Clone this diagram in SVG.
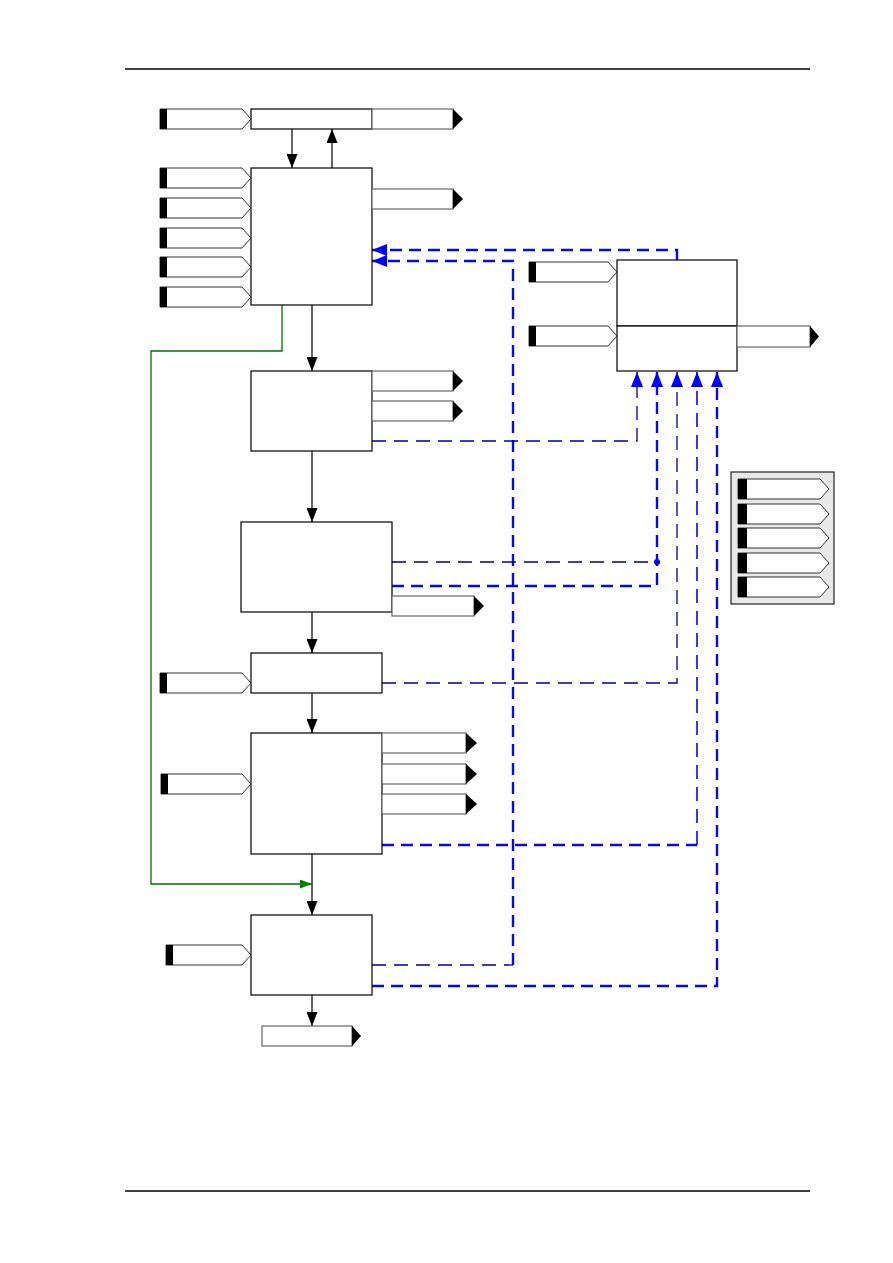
<svg xmlns="http://www.w3.org/2000/svg" width="893" height="1263" viewBox="0 0 893 1263">
<style>
.box{fill:#fff;stroke:#000;stroke-width:1.2}
.in{fill:#fff;stroke:#333;stroke-width:1}
.bar{fill:#000}
.out{fill:#fff;stroke:#666;stroke-width:1.2}
.tip{fill:#000}
.flow{fill:none;stroke:#000;stroke-width:1.2}
.green{fill:none;stroke:#007000;stroke-width:1.3}
.thick{fill:none;stroke:#0a0adc;stroke-width:2.4;stroke-dasharray:12 7}
.thin{fill:none;stroke:#000090;stroke-width:1.3;stroke-dasharray:14 8}
.rule{stroke:#000;stroke-width:1.4}
</style>
<defs>
<marker id="ak" viewBox="0 0 14 11" refX="14" refY="5.5" markerWidth="14" markerHeight="11" orient="auto" markerUnits="userSpaceOnUse"><path d="M0,0 L14,5.5 L0,11 z" fill="#000"/></marker>
<marker id="ab" viewBox="0 0 15 12" refX="15" refY="6" markerWidth="15" markerHeight="12" orient="auto" markerUnits="userSpaceOnUse"><path d="M0,0 L15,6 L0,12 z" fill="#0000ff"/></marker>
<marker id="ag" viewBox="0 0 12 9" refX="12" refY="4.5" markerWidth="12" markerHeight="9" orient="auto" markerUnits="userSpaceOnUse"><path d="M0,0 L12,4.5 L0,9 z" fill="#008000"/></marker>
</defs>

<line class="rule" x1="125" y1="69" x2="810" y2="69"/>
<line class="rule" x1="125" y1="1191" x2="810" y2="1191"/>

<g id="connectors">
<line class="flow" x1="292" y1="129" x2="292" y2="168" marker-end="url(#ak)"/>
<line class="flow" x1="332" y1="168" x2="332" y2="129" marker-end="url(#ak)"/>
<line class="flow" x1="312" y1="305" x2="312" y2="371" marker-end="url(#ak)"/>
<line class="flow" x1="312" y1="451" x2="312" y2="522" marker-end="url(#ak)"/>
<line class="flow" x1="312" y1="612" x2="312" y2="653" marker-end="url(#ak)"/>
<line class="flow" x1="312" y1="693" x2="312" y2="733" marker-end="url(#ak)"/>
<line class="flow" x1="312" y1="854" x2="312" y2="915" marker-end="url(#ak)"/>
<line class="flow" x1="312" y1="995" x2="312" y2="1026" marker-end="url(#ak)"/>
<path class="green" d="M282,305 V351 H151 V884 H312" marker-end="url(#ag)"/>
<path class="thick" d="M677,260 V250 H372" marker-end="url(#ab)"/>
<line class="thin" x1="372" y1="965" x2="513" y2="965"/>
<path class="thick" d="M513,965 V261 H372" marker-end="url(#ab)"/>
<path class="thin" d="M372,441 H637 V372" marker-end="url(#ab)"/>
<line class="thin" x1="392" y1="562" x2="657" y2="562"/>
<circle cx="657" cy="562" r="3" fill="#0000ff"/>
<path class="thick" d="M392,586 H657 V372" marker-end="url(#ab)"/>
<path class="thin" d="M382,683 H677 V372" marker-end="url(#ab)"/>
<line class="thick" x1="382" y1="845" x2="697" y2="845"/>
<path class="thin" style="stroke:#0a0adc;stroke-width:1.6" d="M697,845 V372" marker-end="url(#ab)"/>
<path class="thick" d="M372,986 H717 V372" marker-end="url(#ab)"/>
</g>

<g id="b0"><rect class="box" x="251" y="109" width="121" height="20"/></g>
<g id="b1"><rect class="box" x="251" y="168" width="121" height="137"/></g>
<g id="b2"><rect class="box" x="251" y="371" width="121" height="80"/></g>
<g id="b3"><rect class="box" x="241" y="522" width="151" height="90"/></g>
<g id="b4"><rect class="box" x="251" y="653" width="131" height="40"/></g>
<g id="b5"><rect class="box" x="251" y="733" width="131" height="121"/></g>
<g id="b6"><rect class="box" x="251" y="915" width="121" height="80"/></g>
<g id="r-top"><rect class="box" x="617" y="260" width="120" height="66"/></g>
<g id="r-bottom"><rect class="box" x="617" y="326" width="120" height="45"/></g>
<g id="legend"><rect x="731" y="472" width="103" height="132" fill="#e8e8e8" stroke="#222" stroke-width="1.2"/></g>

<g id="inputs">
<polygon class="in" points="160,109 242,109 251,119 242,129 160,129"/><rect class="bar" x="160" y="109" width="7" height="20"/>
<polygon class="in" points="160,168 242,168 251,178 242,188 160,188"/><rect class="bar" x="160" y="168" width="7" height="20"/>
<polygon class="in" points="160,198 242,198 251,208 242,218 160,218"/><rect class="bar" x="160" y="198" width="7" height="20"/>
<polygon class="in" points="160,228 242,228 251,238 242,248 160,248"/><rect class="bar" x="160" y="228" width="7" height="20"/>
<polygon class="in" points="160,257 242,257 251,267 242,277 160,277"/><rect class="bar" x="160" y="257" width="7" height="20"/>
<polygon class="in" points="160,287 242,287 251,297 242,307 160,307"/><rect class="bar" x="160" y="287" width="7" height="20"/>
<polygon class="in" points="529,262 608,262 617,272 608,282 529,282"/><rect class="bar" x="529" y="262" width="7" height="20"/>
<polygon class="in" points="529,326 608,326 617,336 608,346 529,346"/><rect class="bar" x="529" y="326" width="7" height="20"/>
<polygon class="in" points="160,673 242,673 251,683 242,693 160,693"/><rect class="bar" x="160" y="673" width="7" height="20"/>
<polygon class="in" points="161,774 242,774 251,784 242,794 161,794"/><rect class="bar" x="161" y="774" width="7" height="20"/>
<polygon class="in" points="166,945 242,945 251,955 242,965 166,965"/><rect class="bar" x="166" y="945" width="7" height="20"/>
<polygon class="in" points="738,479 820,479 829,489 820,499 738,499"/><rect class="bar" x="738" y="479" width="9" height="20"/>
<polygon class="in" points="738,504 820,504 829,514 820,524 738,524"/><rect class="bar" x="738" y="504" width="9" height="20"/>
<polygon class="in" points="738,528 820,528 829,538 820,548 738,548"/><rect class="bar" x="738" y="528" width="9" height="20"/>
<polygon class="in" points="738,553 820,553 829,563 820,573 738,573"/><rect class="bar" x="738" y="553" width="9" height="20"/>
<polygon class="in" points="738,577 820,577 829,587 820,597 738,597"/><rect class="bar" x="738" y="577" width="9" height="20"/>
</g>

<g id="outputs">
<rect class="out" x="372" y="109" width="81" height="20"/><polygon class="tip" points="453,109 463,119 453,129"/>
<rect class="out" x="372" y="189" width="81" height="20"/><polygon class="tip" points="453,189 463,199 453,209"/>
<rect class="out" x="372" y="371" width="81" height="20"/><polygon class="tip" points="453,371 463,381 453,391"/>
<rect class="out" x="372" y="401" width="81" height="20"/><polygon class="tip" points="453,401 463,411 453,421"/>
<rect class="out" x="392" y="596" width="82" height="20"/><polygon class="tip" points="474,596 484,606 474,616"/>
<rect class="out" x="382" y="733" width="84" height="20"/><polygon class="tip" points="466,733 477,743 466,753"/>
<rect class="out" x="382" y="764" width="84" height="20"/><polygon class="tip" points="466,764 477,774 466,784"/>
<rect class="out" x="382" y="794" width="84" height="20"/><polygon class="tip" points="466,794 477,804 466,814"/>
<rect class="out" x="737" y="326" width="73" height="21"/><polygon class="tip" points="810,326 819,336.5 810,347"/>
<rect class="out" x="262" y="1026" width="90" height="20"/><polygon class="tip" points="352,1026 361,1036 352,1046"/>
</g>
</svg>
